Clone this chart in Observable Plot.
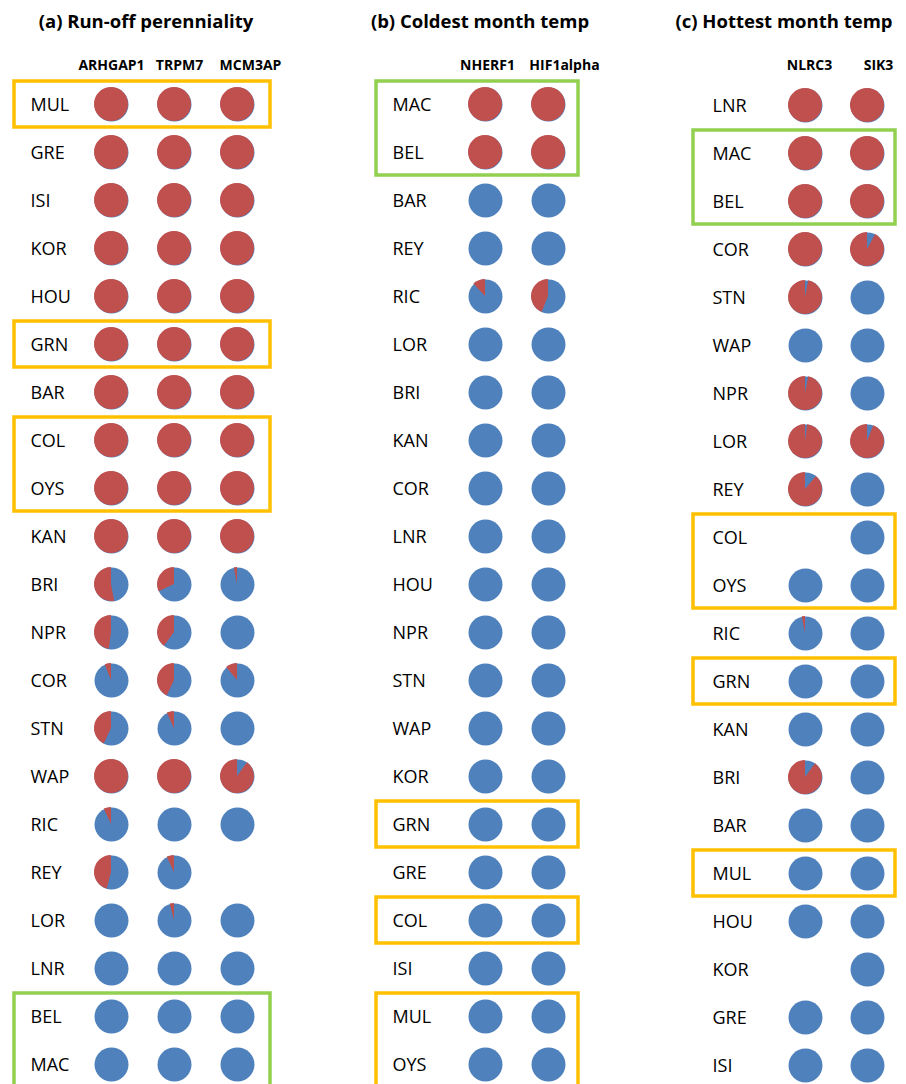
<!DOCTYPE html>
<html><head><meta charset="utf-8">
<script src="https://cdn.jsdelivr.net/npm/d3@7"></script>
<script src="https://cdn.jsdelivr.net/npm/@observablehq/plot@0.6"></script>
<style>
body{margin:0;background:#fff;font-family:"Open Sans",sans-serif;}
#wrap{position:relative;width:906px;height:1084px;overflow:hidden;}
.panel{position:absolute;top:0;width:302px;height:1084px;}
.title{position:absolute;top:8px;font-weight:bold;font-size:18.5px;line-height:26px;white-space:nowrap;transform:translateX(-50%);color:#000;}
.panel svg{position:absolute;top:40px;left:0;overflow:visible;}
</style></head>
<body><div id="wrap"></div>
<script>
// ---------- data ----------
// values = share of each pie drawn in blue (rest red); null = no pie
const titleA = "(a) Run-off perenniality";
const genesA = ["ARHGAP1", "TRPM7", "MCM3AP"];
const rowsA = ["MUL","GRE","ISI","KOR","HOU","GRN","BAR","COL","OYS","KAN","BRI","NPR","COR","STN","WAP","RIC","REY","LOR","LNR","BEL","MAC"];
const arhgap1 = [0,0,0,0,0,0,0,0,0,0,0.47,0.52,0.94,0.57,0,0.93,0.54,1,1,1,1];
const trpm7   = [0,0,0,0,0,0,0,0,0,0,0.68,0.60,0.57,0.93,0,1,0.93,0.96,1,1,1];
const mcm3ap  = [0,0,0,0,0,0,0,0,0,0,0.97,1,0.89,1,0.10,1,null,1,1,1,1];
const boxesA = [
  {from:"MUL", to:"MUL", kind:"orange"},
  {from:"GRN", to:"GRN", kind:"orange"},
  {from:"COL", to:"OYS", kind:"orange"},
  {from:"BEL", to:"MAC", kind:"green"}
];

const titleB = "(b) Coldest month temp";
const genesB = ["NHERF1", "HIF1alpha"];
const rowsB = ["MAC","BEL","BAR","REY","RIC","LOR","BRI","KAN","COR","LNR","HOU","NPR","STN","WAP","KOR","GRN","GRE","COL","ISI","MUL","OYS"];
const nherf1    = [0,0,1,1,0.88,1,1,1,1,1,1,1,1,1,1,1,1,1,1,1,1];
const hif1alpha = [0,0,1,1,0.56,1,1,1,1,1,1,1,1,1,1,1,1,1,1,1,1];
const boxesB = [
  {from:"MAC", to:"BEL", kind:"green"},
  {from:"GRN", to:"GRN", kind:"orange"},
  {from:"COL", to:"COL", kind:"orange"},
  {from:"MUL", to:"OYS", kind:"orange"}
];

const titleC = "(c) Hottest month temp";
const genesC = ["NLRC3", "SIK3"];
const rowsC = ["LNR","MAC","BEL","COR","STN","WAP","NPR","LOR","REY","COL","OYS","RIC","GRN","KAN","BRI","BAR","MUL","HOU","KOR","GRE","ISI"];
const nlrc3 = [0,0,0,0,0.03,1,0.03,0.02,0.11,null,1,0.97,1,1,0.10,1,1,1,null,1,1];
const sik3  = [0,0,0,0.08,1,1,1,0.06,1,1,1,1,1,1,1,1,1,1,1,1,1];
const boxesC = [
  {from:"MAC", to:"BEL", kind:"green"},
  {from:"COL", to:"OYS", kind:"orange"},
  {from:"GRN", to:"GRN", kind:"orange"},
  {from:"MUL", to:"MUL", kind:"orange"}
];

// ---------- styles ----------
const RED = "#C0504D", BLUE = "#4F81BD";
const BOX = {orange: "#FFC000", green: "#92D050"};
const R = 17;

function wedges(pies) {
  return (index, scales) => {
    const arc = d3.arc().innerRadius(0).outerRadius(R);
    const g = d3.create("svg:g").attr("fill", RED);
    for (const d of pies) {
      if (d.blue >= 1) continue;
      g.append("path")
        .attr("transform", `translate(${scales.x(d.gene)},${scales.y(d.row)})`)
        .attr("d", arc({startAngle: d.blue * 2 * Math.PI, endAngle: 2 * Math.PI}));
    }
    return g.node();
  };
}

function panel({left, titleX, title, genes, rows, series, boxes, xRange, yRange, labelDx, boxL, boxR, headDx}) {
  const div = document.createElement("div");
  div.className = "panel";
  div.style.left = left + "px";
  const t = document.createElement("div");
  t.className = "title"; t.textContent = title; t.style.left = titleX + "px";
  div.appendChild(t);
  const pies = [];
  genes.forEach((g, j) => rows.forEach((r, i) => {
    const v = series[j][i];
    if (v != null) pies.push({gene: g, row: r, blue: v});
  }));
  const lastGene = genes[genes.length - 1];
  const rects = boxes.map(b => ({x1: "label", x2: lastGene, y1: b.from, y2: b.to, kind: b.kind}));
  const boxMark = kind => Plot.rect(rects.filter(b => b.kind === kind), {
    x1: "x1", x2: "x2", y1: "y1", y2: "y2", fill: "none", stroke: BOX[kind], strokeWidth: 3.5,
    insetLeft: boxL, insetRight: boxR, insetTop: -23, insetBottom: -23
  });
  const plot = Plot.plot({
    width: 302, height: 1044, margin: 0,
    style: {fontFamily: "'Open Sans', sans-serif", background: "transparent", overflow: "visible"},
    x: {type: "point", domain: ["label", ...genes], range: xRange, padding: 0, axis: null},
    y: {type: "point", domain: rows, range: yRange, padding: 0, axis: null},
    marks: [
      boxMark("orange"),
      boxMark("green"),
      ...genes.map((g, j) => Plot.text([g], {x: d => d, text: d => d, frameAnchor: "top", dy: 20, dx: headDx[j], fontWeight: "bold", fontSize: 14, fill: "#000"})),
      Plot.text(rows, {x: () => "label", y: d => d, text: d => d, textAnchor: "start", dx: labelDx, dy: 1, fontSize: 18, fill: "#000"}),
      Plot.dot(pies, {x: "gene", y: "row", r: R, fill: BLUE, stroke: "none"}),
      wedges(pies)
    ]
  });
  div.appendChild(plot);
  document.getElementById("wrap").appendChild(div);
}

panel({left: 0, titleX: 146, title: titleA, genes: genesA, rows: rowsA,
  series: [arhgap1, trpm7, mcm3ap], boxes: boxesA,
  xRange: [48, 237], yRange: [63, 1024], labelDx: -18, boxL: -34, boxR: -33, headDx: [0, 5, 13]});
panel({left: 302, titleX: 178, title: titleB, genes: genesB, rows: rowsB,
  series: [nherf1, hif1alpha], boxes: boxesB,
  xRange: [120, 246], yRange: [63, 1024], labelDx: -30, boxL: -46, boxR: -30, headDx: [2, 16]});
panel({left: 604, titleX: 180, title: titleC, genes: genesC, rows: rowsC,
  series: [nlrc3, sik3], boxes: boxesC,
  xRange: [139, 263], yRange: [64, 1026], labelDx: -31, boxL: -50, boxR: -28, headDx: [4, 11]});
</script>
</body></html>
